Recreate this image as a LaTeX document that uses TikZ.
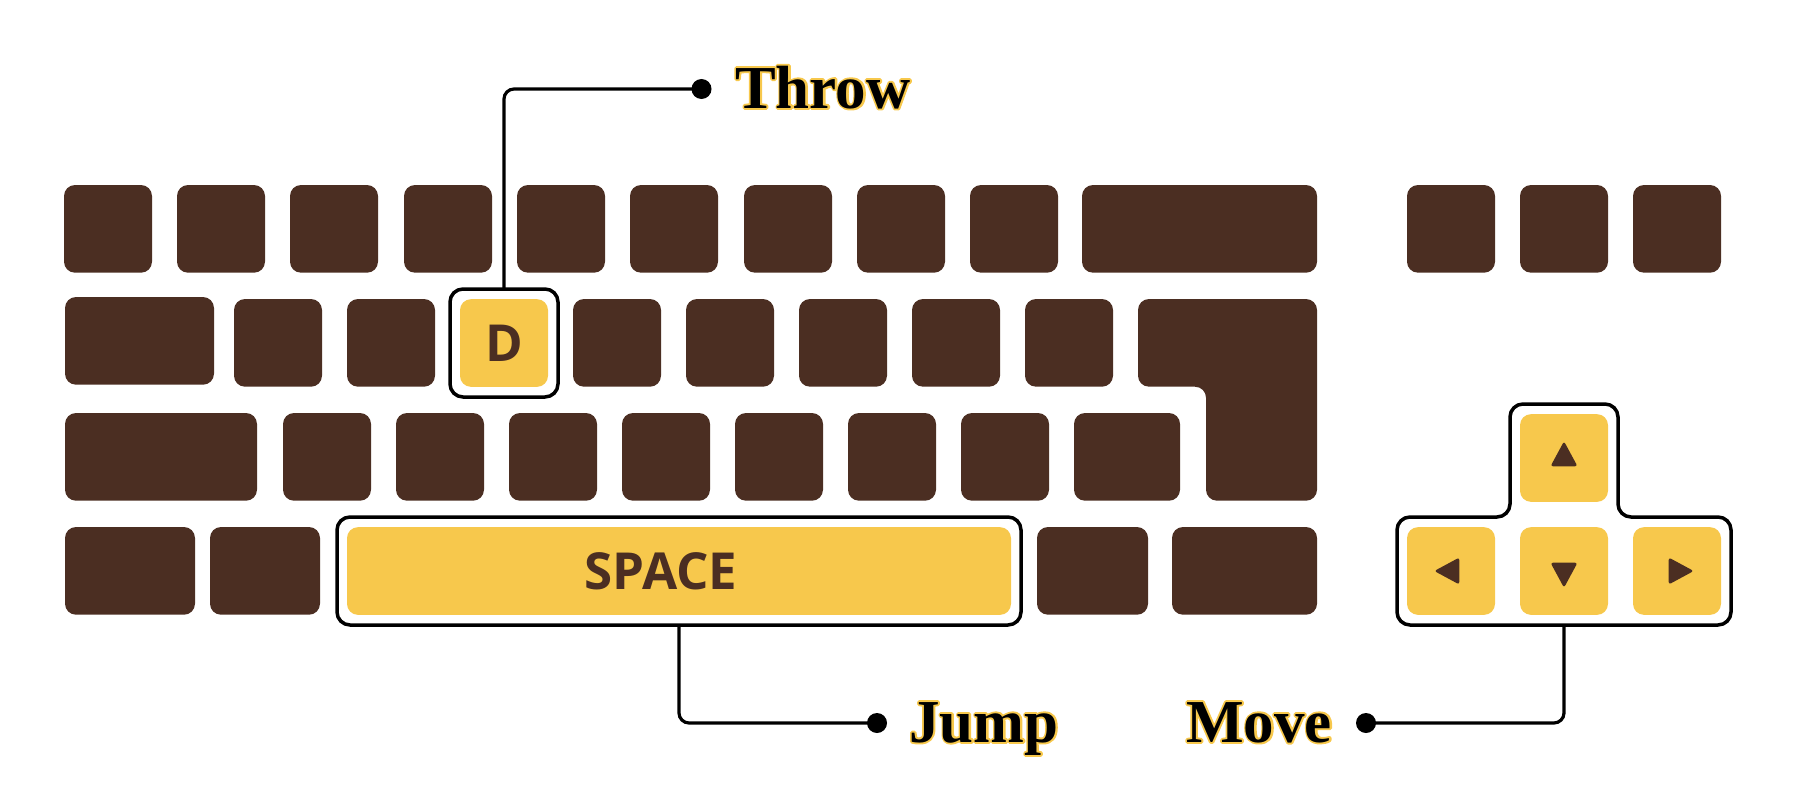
\documentclass[tikz,border=0pt]{standalone}
\usepackage{fontspec}
\newfontfamily\labfont{Liberation Serif}
\newfontfamily\keyfont{Open Sans}
\definecolor{kbrown}{HTML}{4B2E22}
\definecolor{kyellow}{HTML}{F7C84C}
\newcommand\strokeonly[1]{\special{pdf:literal 1 Tr 3.8 w 1 j 0.969 0.784 0.298 RG}#1\special{pdf:literal 0 Tr}}
\newcommand\outlined[1]{\rlap{\strokeonly{#1}}#1}
\tikzset{
  keyb/.style={fill=kbrown, rounded corners=11bp},
  ykey/.style={fill=kyellow, rounded corners=11bp, inner sep=0pt, outer sep=0pt,
    minimum width=88bp, minimum height=87.7bp, text=kbrown,
    font=\keyfont\bfseries\fontsize{51bp}{51bp}\selectfont},
  hbox/.style={draw=black, line width=3.5bp, rounded corners=13bp, inner sep=0pt, outer sep=0pt},
  conn/.style={draw=black, line width=3.2bp, rounded corners=10bp},
  dot/.style={circle, fill=black, minimum size=20bp, inner sep=0pt},
  lab/.style={inner sep=0pt, font=\labfont\bfseries\fontsize{61bp}{61bp}\selectfont},
  tri/.style={fill=kbrown, rounded corners=2.5bp}
}
\begin{document}
\begin{tikzpicture}[x=1bp, y=-1bp]
\useasboundingbox (0,0) rectangle (1795,812);
% row 1
\foreach \x in {64,177,290,404,517,630,744,857,970}
  \fill[keyb] (\x,185) rectangle ++(88,87.7);
\fill[keyb] (1082,185) rectangle (1317,272.7);
\foreach \x in {1407,1520,1633}
  \fill[keyb] (\x,185) rectangle ++(88,87.7);
% row 2
\fill[keyb] (65,297) rectangle (214,384.7);
\foreach \x in {234,347,573,686,799,912,1025}
  \fill[keyb] (\x,299) rectangle ++(88,87.7);
\fill[keyb] (1138,299) -- (1317,299) -- (1317,500.7) -- (1206,500.7) -- (1206,386.7) -- (1138,386.7) -- cycle;
% row 3
\fill[keyb] (65,413) rectangle (257,500.7);
\foreach \x in {283,396,509,622,735,848,961}
  \fill[keyb] (\x,413) rectangle ++(88,87.7);
\fill[keyb] (1074,413) rectangle (1180,500.7);
% row 4
\fill[keyb] (65,527) rectangle (195,614.7);
\fill[keyb] (210,527) rectangle (320,614.7);
\fill[keyb] (1037,527) rectangle (1148,614.7);
\fill[keyb] (1172,527) rectangle (1317,614.7);
% highlighted keys
\node[ykey] (dkey) at (504,343) {D};
\node[hbox, minimum width=108bp, minimum height=108bp] (dbox) at (504,343) {};
\node[ykey, minimum width=664bp] (spacekey) at (679,571) {};
\node[inner sep=0pt, text=kbrown, font=\keyfont\bfseries\fontsize{51bp}{51bp}\selectfont] (spacelabel) at (661,571) {SPACE};
\node[hbox, minimum width=684bp, minimum height=108bp] (spacebox) at (679,571) {};
% arrow cluster
\node[ykey] (upkey) at (1564,458) {};
\node[ykey] (leftkey) at (1451,571) {};
\node[ykey] (downkey) at (1564,571) {};
\node[ykey] (rightkey) at (1677,571) {};
\fill[tri, shift={(upkey.center)}] (0,-16.7) -- (13.5,8.3) -- (-13.5,8.3) -- cycle;
\fill[tri, shift={(downkey.center)}] (0,16.7) -- (13.5,-8.3) -- (-13.5,-8.3) -- cycle;
\fill[tri, shift={(leftkey.center)}] (-16.7,0) -- (8.3,13.5) -- (8.3,-13.5) -- cycle;
\fill[tri, shift={(rightkey.center)}] (16.7,0) -- (-8.3,13.5) -- (-8.3,-13.5) -- cycle;
\draw[black, line width=3.5bp, rounded corners=13bp] (1397,625) -- (1397,517) -- (1510,517) -- (1510,404) -- (1618,404) -- (1618,517) -- (1731,517) -- (1731,625) -- cycle;
\coordinate (arrowbot) at (1564,625);
% dots
\node[dot] (throwdot) at (701.5,89) {};
\node[dot] (jumpdot) at (877,723) {};
\node[dot] (movedot) at (1366,723) {};
% connectors
\draw[conn] (dbox.north) |- (throwdot.center);
\draw[conn] (spacebox.south) |- (jumpdot.center);
\draw[conn] (arrowbot) |- (movedot.center);
% labels
\node[lab, anchor=base west] (throwlab) at (735,108) {\outlined{Throw}};
\node[lab, anchor=base west] (jumplab) at (909,742) {\outlined{Jump}};
\node[lab, anchor=base east] (movelab) at (1332,742) {\outlined{Move}};
\end{tikzpicture}
\end{document}
